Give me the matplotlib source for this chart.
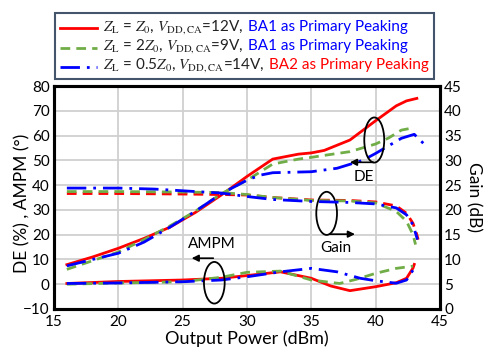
import matplotlib
matplotlib.use("Agg")
import matplotlib.pyplot as plt
from matplotlib.patches import Ellipse
from matplotlib.offsetbox import TextArea, HPacker, VPacker, DrawingArea, AnchoredOffsetbox
from matplotlib.lines import Line2D

plt.rcParams['font.family'] = ['Lato', 'DejaVu Sans']
plt.rcParams['mathtext.fontset'] = 'stix'

# ---------------- data ----------------
red_de_x = [16, 18, 20, 22, 24, 26, 28, 30, 32, 34, 35, 36, 38, 40, 41.6, 42.4, 43.2]
red_de_y = [7.9, 11, 14.5, 18.5, 23, 29, 36, 43.5, 50.5, 52.5, 53, 54, 58.2, 66, 72, 74, 75]
grn_de_x = [16, 18, 20, 22, 24, 26, 28, 30, 32, 34, 35, 36, 38, 40, 41, 42, 43]
grn_de_y = [6, 9.5, 13, 18, 23.5, 29.5, 36.5, 42, 48.5, 50.5, 51.2, 52, 53.5, 56.6, 59, 62.2, 63.2]
blu_de_x = [16, 18, 20, 22, 24, 26, 28, 30, 31, 32, 35, 37, 39, 40, 42, 43, 43.7]
blu_de_y = [7.4, 10, 12.5, 17, 23, 29.5, 36.5, 42, 44, 45, 45.4, 46.8, 50, 52.8, 58.9, 60.5, 56.9]

red_gain_x = [16, 20, 25, 28, 30, 32, 35, 38, 40, 41.6, 42.4, 42.9, 43.2, 43.3]
red_gain_y = [23.3, 23.3, 23.2, 23.1, 23.0, 22.5, 22.0, 21.9, 21.6, 20.8, 19.3, 17.3, 15.0, 14.0]
grn_gain_x = [16, 20, 25, 28, 30, 32, 35, 38, 40, 41.6, 42.4, 42.9, 43.1]
grn_gain_y = [23.7, 23.7, 23.6, 23.5, 23.1, 22.5, 21.9, 21.8, 21.4, 19.7, 17.7, 15.0, 13.0]
blu_gain_x = [16, 20, 22.8, 26, 28, 30, 32, 35, 38, 40, 41.6, 42.4, 42.9, 43.25]
blu_gain_y = [24.4, 24.4, 24.2, 23.7, 23.4, 22.7, 22.1, 21.7, 21.5, 21.2, 20.4, 19.0, 17.0, 14.0]

red_pm_x = [16, 20, 25, 28, 30, 32.6, 35, 36.5, 38, 40, 41.6, 42.4, 42.9, 43.0]
red_pm_y = [0.3, 1.1, 1.7, 2.4, 3.5, 5.0, 2.4, -0.7, -2.6, -1.0, 0.6, 2.4, 6.5, 8.0]
grn_pm_x = [16, 20, 25, 28, 30, 32.6, 35, 37.2, 38.5, 40, 41.6, 42.9]
grn_pm_y = [0, 0.5, 1.0, 2.8, 4.8, 5.3, 1.7, 0.3, 2.0, 4.4, 6.4, 7.3]
blu_pm_x = [16, 20, 25, 28, 30, 32.6, 35, 37, 38.8, 40, 41.6, 42.4, 42.9]
blu_pm_y = [0.3, 0.5, 1.0, 1.7, 3.0, 5.0, 6.4, 5.0, 2.4, 1.4, 0.4, 1.7, 5.7]

x_ticks = [15, 20, 25, 30, 35, 40, 45]
left_ticks = [-10, 0, 10, 20, 30, 40, 50, 60, 70, 80]
right_ticks = [0, 5, 10, 15, 20, 25, 30, 35, 40, 45]

RED = '#FF0000'
GRN = '#70AD47'
BLU = '#0000FF'
ls_red = '-'
ls_grn = (0, (3.5, 2.2))
ls_blu = (0, (7, 2.5, 1, 2.5))
LW = 2.0

fig = plt.figure(figsize=(4.9, 3.56), dpi=100)
ax = fig.add_axes([54/490, 1-309/356, (440-54)/490, (309-86)/356])
ax2 = ax.twinx()

ax.set_xlim(15, 45)
ax.set_ylim(-10, 80)
ax2.set_ylim(0, 45)
ax.set_xticks(x_ticks)
ax.set_yticks(left_ticks)
ax2.set_yticks(right_ticks)
ax.grid(True, color='#D0D0D0', lw=1.3)
ax.set_axisbelow(True)
for a in (ax, ax2):
    a.tick_params(length=0, labelsize=11, pad=3)
    for s in a.spines.values():
        s.set_linewidth(2.2)
        s.set_color('black')
ax.tick_params(axis='x', pad=4.5)

for xs, ys, c, ls in [(red_de_x, red_de_y, RED, ls_red), (grn_de_x, grn_de_y, GRN, ls_grn),
                      (blu_de_x, blu_de_y, BLU, ls_blu),
                      (red_pm_x, red_pm_y, RED, ls_red), (grn_pm_x, grn_pm_y, GRN, ls_grn),
                      (blu_pm_x, blu_pm_y, BLU, ls_blu)]:
    ax.plot(xs, ys, color=c, ls=ls, lw=LW)
for xs, ys, c, ls in [(red_gain_x, red_gain_y, RED, (0, (3.5, 2.2))), (grn_gain_x, grn_gain_y, GRN, ls_grn),
                      (blu_gain_x, blu_gain_y, BLU, ls_blu)]:
    ax2.plot(xs, ys, color=c, ls=ls, lw=LW)

ax.set_xlabel('Output Power (dBm)', fontsize=13, labelpad=1)
ax.set_ylabel('DE (%) , AMPM (°)', fontsize=12.5, ha='center', va='center')
ax.yaxis.set_label_coords(-0.083, 0.475)
ax2.set_ylabel('Gain (dB)', fontsize=12.5, rotation=270, ha='center', va='center')
ax2.yaxis.set_label_coords(1.086, 0.50)

# annotations
for (cx, cy, w, h) in [(39.89, 58.2, 1.55, 18.2), (36.19, 28.6, 1.61, 17.4), (27.46, 0.6, 1.61, 16.8)]:
    ax.add_patch(Ellipse((cx, cy), w, h, fill=False, ec='black', lw=1.3, zorder=5))
arrow = dict(arrowstyle='-|>', color='black', lw=1.2, mutation_scale=10, shrinkA=0, shrinkB=0)
ax.annotate('', xy=(38.0, 49.2), xytext=(39.81, 49.2), arrowprops=arrow)
ax.annotate('', xy=(38.39, 20.2), xytext=(36.45, 20.2), arrowprops=arrow)
ax.annotate('', xy=(25.7, 10.5), xytext=(27.38, 10.5), arrowprops=arrow)
ax.text(39.09, 43.4, 'DE', fontsize=11, ha='center', va='center')
ax.text(36.89, 14.5, 'Gain', fontsize=11, ha='center', va='center')
ax.text(27.25, 16.2, 'AMPM', fontsize=11, ha='center', va='center')

# legend
rows = []
leg_items = [
    (RED, ls_red, r'$Z_\mathrm{L}$ = $Z_0$, $V_\mathrm{DD,CA}$=12V, ', 'BA1 as Primary Peaking', BLU),
    (GRN, ls_grn, r'$Z_\mathrm{L}$ = 2$Z_0$, $V_\mathrm{DD,CA}$=9V, ', 'BA1 as Primary Peaking', BLU),
    (BLU, ls_blu, r'$Z_\mathrm{L}$ = 0.5$Z_0$, $V_\mathrm{DD,CA}$=14V, ', 'BA2 as Primary Peaking', RED),
]
for c, ls, t1, t2, c2 in leg_items:
    da = DrawingArea(28, 10, 0, 0)
    da.add_artist(Line2D([0, 27], [4, 4], color=c, ls=ls, lw=LW))
    ta1 = TextArea(t1, textprops=dict(color='#222222', fontsize=11))
    ta2 = TextArea(t2, textprops=dict(color=c2, fontsize=11))
    rows.append(HPacker(children=[da, ta1, ta2], sep=3, pad=0, align='center'))
vp = VPacker(children=rows, sep=1, pad=0, align='left')
box = AnchoredOffsetbox(loc='upper left', child=vp, pad=0.35, borderpad=0,
                        bbox_to_anchor=(55/490, 1-13/356), bbox_transform=fig.transFigure,
                        frameon=True)
box.patch.set_edgecolor('#44546A')
box.patch.set_linewidth(1.5)
box.patch.set_boxstyle('square', pad=0)
fig.add_artist(box)

fig.savefig('out.png', dpi=100)
